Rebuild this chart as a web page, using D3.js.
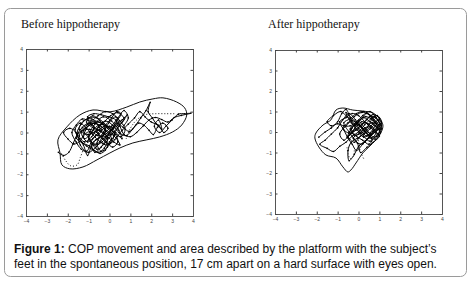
<!DOCTYPE html>
<html>
<head>
<meta charset="utf-8">
<script src="https://cdn.jsdelivr.net/npm/d3@7"></script>
<style>
  body { margin: 0; background: #fff; }
  .tick text { font-family: "Liberation Sans", Arial, sans-serif; font-size: 5px; fill: #444; }
  .tick line { stroke: #444; }
  .panel-title { font-family: "Liberation Serif", "Times New Roman", serif; font-size: 12px; fill: #111; }
  .caption { font-family: "Liberation Sans", Arial, sans-serif; font-size: 12px; fill: #111; }
</style>
</head>
<body>
<div id="chart"></div>
<script>
// axis ticks (same on both panels)
const tickValues = [-4, -3, -2, -1, 0, 1, 2, 3, 4];

// COP trajectory before hippotherapy (cm)
const beforeTrack = [
  [-2.45,-0.95],[-2.2,-1.1],[-1.95,-0.95],[-1.75,-0.55],[-1.55,-0.1],[-1.3,0.25],[-1.0,0.45],[-0.75,0.3],
  [-0.9,-0.05],[-1.2,-0.3],[-1.35,0.05],[-1.1,0.35],[-0.7,0.55],[-0.35,0.4],[-0.2,0.05],[-0.5,-0.25],
  [-0.85,-0.55],[-0.7,-0.95],[-0.4,-0.7],[-0.15,-0.3],[0.1,0.15],[0.35,0.55],[0.55,0.9],[0.35,1.0],
  [0.1,0.7],[-0.25,0.3],[-0.65,0.05],[-1.05,-0.1],[-1.45,0.15],[-1.25,0.55],[-0.85,0.65],[-0.45,0.2],
  [-0.1,-0.25],[-0.25,-0.75],[-0.55,-0.95],[-0.95,-0.65],[-1.3,-0.5],[-1.6,-0.25],[-1.35,0.05],[-0.95,0.15],
  [-0.55,-0.05],[-0.15,-0.45],[0.15,-0.7],[0.4,-0.45],[0.25,-0.05],[-0.15,0.35],[-0.6,0.7],[-1.0,0.7],
  [-1.35,0.4],[-1.55,-0.05],[-1.25,-0.6],[-1.05,-1.1],[-0.9,-0.75],[-0.65,-0.35],[-0.3,-0.15],[0.05,0.1],
  [0.35,0.45],[0.65,0.25],[0.95,0.05],[1.25,0.35],[1.5,0.7],[1.75,1.05],[1.95,1.45],[1.85,1.0],
  [2.05,0.7],[2.25,0.4],[2.5,0.15],[2.35,0.6],[2.15,0.3],[2.4,0.0],[2.7,0.3],[3.0,0.6],
  [3.3,0.88],[3.6,0.9],[3.9,0.92],[3.45,0.82],[3.1,0.72],[2.8,0.5],[2.5,0.62],[2.2,0.72],
  [1.9,0.6],[1.6,0.3],[1.3,0.0],[1.0,-0.2],[0.7,-0.1],[0.5,0.3],[0.3,0.75],[0.0,0.5],
  [-0.3,0.0],[-0.6,-0.5],[-0.4,-0.9],[-0.1,-0.7],[0.1,-0.3],[-0.2,0.1],[-0.5,0.35],[-0.9,0.45],
  [-1.2,0.0],[-1.4,-0.4],[-1.7,-0.55],[-2.0,-0.3],[-2.2,0.0],[-1.9,0.2],[-1.6,0.0],[-1.4,-0.6],
  [-1.1,-0.9],[-0.8,-0.3],[-0.4,0.1],[0.0,0.3],[0.3,0.0],[0.6,-0.3],[0.45,0.1],[0.1,0.55],
  [-0.3,0.75],[-0.7,0.4],[-1.0,-0.2],[-0.7,-0.6],[-0.35,-0.45],[-0.05,-0.05],[0.25,0.3],[0.6,0.6],
  [0.85,0.85],[0.6,0.5],[0.2,0.2],[-0.2,-0.2],[-0.55,-0.15],[-0.95,0.05],[-1.25,-0.2],[-1.05,-0.45],
  [-0.7,-0.2],[-0.4,0.05],[-0.75,0.2],[-1.1,0.5],[-0.8,0.8],[-0.45,0.55],[-0.1,0.2],[0.2,-0.15],
  [0.0,-0.55],[-0.35,-0.3],[-0.6,0.1],[-0.3,0.45],[0.05,0.8],[0.4,0.95],[0.7,0.65],[0.45,0.3],
  [0.1,-0.1],[-0.25,-0.55],[-0.6,-0.8],[-0.95,-0.3],[-1.25,0.1],[-0.95,0.35],[-0.55,0.5],[-0.15,0.3],
  [0.2,0.0],[0.55,-0.2],[0.75,0.15],[0.5,0.55],[0.15,0.9],[-0.2,1.0],[-0.55,0.8],[-0.9,0.55],
  [-1.3,0.65],[-1.6,0.35],[-1.8,0.0],[-1.6,-0.45],[-1.35,-0.8],[-1.0,-0.95],[-0.65,-0.7],[-0.3,-0.3],
  [0.05,-0.1],[0.4,0.2],[0.3,0.6],[-0.05,0.75],[-0.4,0.85],[-0.75,0.9],[-1.05,0.75],[-0.85,0.35],
  [-0.5,0.1],[-0.15,-0.15],[0.2,-0.45],[0.5,-0.6],[0.3,-0.25],[0.0,0.0],[-0.35,0.25],[-0.7,0.45],
  [-1.15,0.2],[-1.45,-0.15],[-1.2,-0.45],[-0.85,-0.2],[-0.55,0.25],[-0.2,0.55],[0.15,0.35],[0.45,0.0],
  [0.8,-0.15],[1.1,0.15],[1.4,0.45],[1.65,0.35],[1.9,0.1],[2.1,-0.1],[2.3,0.25],[2.55,0.45],
  [2.8,0.2],[2.6,0.0],[2.35,0.35],[2.0,0.5],[1.7,0.75],[1.45,1.0],[1.2,0.7],[0.9,0.4],
  [0.6,0.1],[0.25,-0.35],[-0.1,-0.6],[-0.45,-0.45],[-0.8,-0.1],[-1.1,0.2],[-1.4,0.45],[-1.65,0.15],
  [-1.45,-0.3],[-1.1,-0.65],[-0.75,-0.85],[-0.45,-1.0],[-0.2,-0.85],[0.0,-0.45],[0.25,-0.1],[-0.05,0.25],
  [-0.4,0.4],[-0.75,0.15],[-1.0,-0.35],[-0.6,-0.55],[-0.25,-0.05],[0.1,0.3],[0.4,0.7],[0.7,1.05],
  [0.9,0.7],[0.7,0.35]
];
const beforeDotted = [
  [-2.3,-1.0],[-2.1,-1.35],[-1.85,-1.6],[-1.55,-1.55],[-1.4,-1.2],[-1.25,-0.8]
];
const beforeDotted2 = [
  [0.8,-0.3],[1.0,0.2],[1.3,0.6],[1.7,0.85],[2.2,0.9],[2.7,0.9],[3.1,0.9]
];
const beforeHull = [
  [-2.37,-0.98],[-2.47,-0.35],[-2.04,0.27],[-1.42,0.84],[-0.79,1.08],[0.02,0.99],[0.83,1.22],[1.45,1.46],
  [2.08,1.61],[2.56,1.66],[3.22,1.46],[3.6,1.18],[3.7,0.84],[3.46,0.36],[3.03,0.03],[2.41,-0.21],
  [1.79,-0.35],[1.12,-0.5],[0.5,-0.74],[0.02,-0.98],[-0.6,-1.31],[-1.27,-1.65],[-1.9,-1.74],[-2.28,-1.55]
];

// COP trajectory after hippotherapy (cm)
const afterTrack = [
  [-1.9,-0.25],[-1.6,0.0],[-1.3,0.2],[-1.0,0.5],[-0.8,0.9],[-0.6,1.1],[-0.4,0.7],[-0.2,0.3],
  [0.1,0.6],[0.4,0.9],[0.7,0.6],[0.9,0.2],[0.6,-0.1],[0.3,0.2],[0.0,0.5],[-0.3,0.2],
  [-0.5,-0.2],[-0.2,-0.5],[0.1,-0.2],[0.4,0.1],[0.7,0.4],[1.0,0.6],[1.1,0.3],[0.8,0.0],
  [0.5,-0.3],[0.2,-0.6],[-0.1,-0.9],[-0.3,-0.6],[-0.5,-0.3],[-0.7,0.1],[-0.9,0.5],[-0.6,0.7],
  [-0.3,0.9],[0.0,0.8],[0.3,0.5],[0.6,0.2],[0.9,-0.1],[1.05,0.15],[0.85,0.5],[0.55,0.75],
  [0.2,0.4],[-0.1,0.1],[-0.4,-0.1],[-0.7,-0.4],[-0.9,-0.1],[-0.6,0.3],[-0.3,0.55],[0.05,0.3],
  [0.35,-0.05],[0.65,-0.35],[0.5,-0.6],[0.2,-0.4],[-0.1,-0.2],[-0.35,0.15],[-0.05,0.45],[0.25,0.7],
  [0.55,0.5],[0.85,0.25],[1.05,-0.05],[0.75,-0.25],[0.45,0.0],[0.15,0.25],[-0.15,0.6],[-0.45,0.9],
  [-0.75,0.6],[-1.0,0.2],[-1.3,-0.1],[-1.6,-0.4],[-1.85,-0.6],[-1.5,-0.8],[-1.2,-0.95],[-0.9,-0.7],
  [-0.6,-0.5],[-0.3,-0.2],[0.0,0.0],[0.3,0.35],[0.6,0.65],[0.9,0.8],[1.1,0.5],[0.9,0.1],
  [0.6,-0.15],[0.3,-0.45],[0.0,-0.7],[-0.2,-1.1],[-0.45,-1.4],[-0.5,-0.9],[-0.35,-0.5],[-0.05,-0.3],
  [0.25,-0.1],[0.55,0.15],[0.8,0.45],[0.5,0.85],[0.15,0.95],[-0.2,0.75],[-0.5,0.45],[-0.75,0.2],
  [-0.45,-0.05],[-0.15,0.2],[0.15,0.5],[0.45,0.4],[0.75,0.1],[1.0,-0.2],[0.7,-0.5],[0.4,-0.75],
  [0.1,-1.0],[-0.05,-0.55],[-0.25,-0.3],[0.05,-0.05],[0.35,0.2],[0.65,0.45],[0.95,0.35],[0.7,0.05],
  [0.4,-0.2],[0.1,0.1],[-0.2,0.4],[-0.55,0.75],[-0.85,1.0],[-1.2,0.8],[-1.5,0.5],[-1.3,0.3],
  [-1.0,0.4],[-0.7,0.3],[-0.4,0.3],[-0.1,0.5],[0.2,0.8],[0.55,1.0],[0.85,0.7],[1.0,0.35],
  [0.7,0.0],[0.4,-0.35],[0.1,-0.6],[-0.2,-0.35],[-0.45,0.0],[-0.7,0.45],[-0.4,0.65],[-0.1,0.9],
  [0.25,1.0],[0.6,0.8],[0.95,0.55],[1.1,0.15],[0.85,-0.2],[0.55,-0.45],[0.25,-0.2],[0.0,0.2],
  [0.3,0.45],[0.6,0.3],[0.85,0.0],[0.6,-0.3],[0.3,0.05],[0.0,0.35],[-0.3,0.65],[-0.6,0.95],
  [-0.35,0.45],[-0.05,0.1],[0.25,-0.25],[0.55,-0.05],[0.8,0.3],[1.0,0.65],[0.7,0.85],[0.4,0.6],
  [0.1,0.3],[-0.25,0.05],[-0.55,-0.25],[-0.3,-0.05],[0.0,0.55],[0.35,0.75],[0.7,0.55],[1.0,0.1],
  [0.8,-0.35],[0.5,-0.15],[0.2,0.15],[-0.1,0.4],[-0.4,0.15],[-0.2,-0.15],[0.15,-0.05],[0.45,0.25],
  [0.75,0.75],[1.05,0.4]
];
const afterDotted = [
  [-0.55,-0.75],[-0.5,-1.05],[-0.4,-1.3],[-0.25,-1.2],[-0.2,-0.9]
];
const afterDotted2 = [
  [0.0,-0.4],[0.05,-0.8],[0.15,-1.1],[0.25,-1.3]
];
const afterHull = [
  [-2.04,-0.05],[-1.7,0.34],[-1.32,0.59],[-1.08,1.07],[-0.75,1.17],[-0.27,1.07],[0.21,1.02],[0.69,0.93],
  [0.98,0.68],[1.17,0.34],[1.07,-0.05],[0.83,-0.39],[0.5,-0.73],[0.21,-1.02],[-0.12,-1.51],[-0.36,-1.85],
  [-0.51,-1.95],[-0.75,-1.7],[-1.08,-1.27],[-1.56,-1.12],[-1.9,-0.73],[-2.09,-0.29]
];

const captionLines = [
  ["Figure 1:", " COP movement and area described by the platform with the subject’s"],
  ["", "feet in the spontaneous position, 17 cm apart on a hard surface with eyes open."]
];

const svg = d3.select("#chart").append("svg")
  .attr("width", 476)
  .attr("height", 282);

// outer frame
svg.append("rect")
  .attr("x", 4.5).attr("y", 8.5)
  .attr("width", 462).attr("height", 268)
  .attr("rx", 6)
  .attr("fill", "#fff")
  .attr("stroke", "#9a9a9a");

function drawPanel(cfg, track, dotted, hull) {
  let x = d3.scaleLinear().domain([-4, 4]).range([cfg.left, cfg.right]);
  let y = d3.scaleLinear().domain([-4, 4]).range([cfg.bottom, cfg.top]);
  let g = svg.append("g");

  g.append("text")
    .attr("class", "panel-title")
    .attr("x", cfg.titleX).attr("y", 28)
    .text(cfg.title);

  // axes, ticks pointing inwards on all four sides
  g.append("g")
    .attr("transform", "translate(0," + cfg.bottom + ")")
    .call(d3.axisBottom(x).tickValues(tickValues).tickSize(-2.5).tickPadding(3));
  g.append("g")
    .attr("transform", "translate(0," + cfg.top + ")")
    .call(d3.axisTop(x).tickValues(tickValues).tickSize(-2.5).tickFormat(""));
  g.append("g")
    .attr("transform", "translate(" + cfg.left + ",0)")
    .call(d3.axisLeft(y).tickValues(tickValues).tickSize(-2.5).tickPadding(3));
  g.append("g")
    .attr("transform", "translate(" + cfg.right + ",0)")
    .call(d3.axisRight(y).tickValues(tickValues).tickSize(-2.5).tickFormat(""));
  g.selectAll(".domain").attr("stroke", "#555");

  let line = d3.line()
    .x(d => x(d[0]))
    .y(d => y(d[1]));

  // area outline
  g.append("path")
    .attr("d", line.curve(d3.curveCatmullRomClosed)(hull))
    .attr("fill", "none")
    .attr("stroke", "#111")
    .attr("stroke-width", 1);

  // dotted parts of the path
  dotted.forEach(seg => {
    g.append("path")
      .attr("d", line.curve(d3.curveCatmullRom)(seg))
      .attr("fill", "none")
      .attr("stroke", "#111")
      .attr("stroke-width", 1)
      .attr("stroke-dasharray", "1,2");
  });

  // COP trajectory
  g.append("path")
    .attr("d", line.curve(d3.curveCatmullRom)(track))
    .attr("fill", "none")
    .attr("stroke", "#000")
    .attr("stroke-width", 1);

  g.selectAll("circle.pt")
    .data(track)
    .join("circle")
    .attr("class", "pt")
    .attr("cx", d => x(d[0]))
    .attr("cy", d => y(d[1]))
    .attr("r", 0.8)
    .attr("fill", "#000");
}

drawPanel({left: 26, right: 193, top: 49, bottom: 216, titleX: 21, title: "Before hippotherapy"},
  beforeTrack, [beforeDotted, beforeDotted2], beforeHull);
drawPanel({left: 275, right: 442, top: 50, bottom: 214, titleX: 268, title: "After hippotherapy"},
  afterTrack, [afterDotted, afterDotted2], afterHull);

// caption
captionLines.forEach((l, i) => {
  let t = svg.append("text")
    .attr("class", "caption")
    .attr("x", 14)
    .attr("y", 253 + i * 15);
  if (l[0]) t.append("tspan").attr("font-weight", "bold").text(l[0]);
  t.append("tspan").text(l[1]);
});
</script>
</body>
</html>
